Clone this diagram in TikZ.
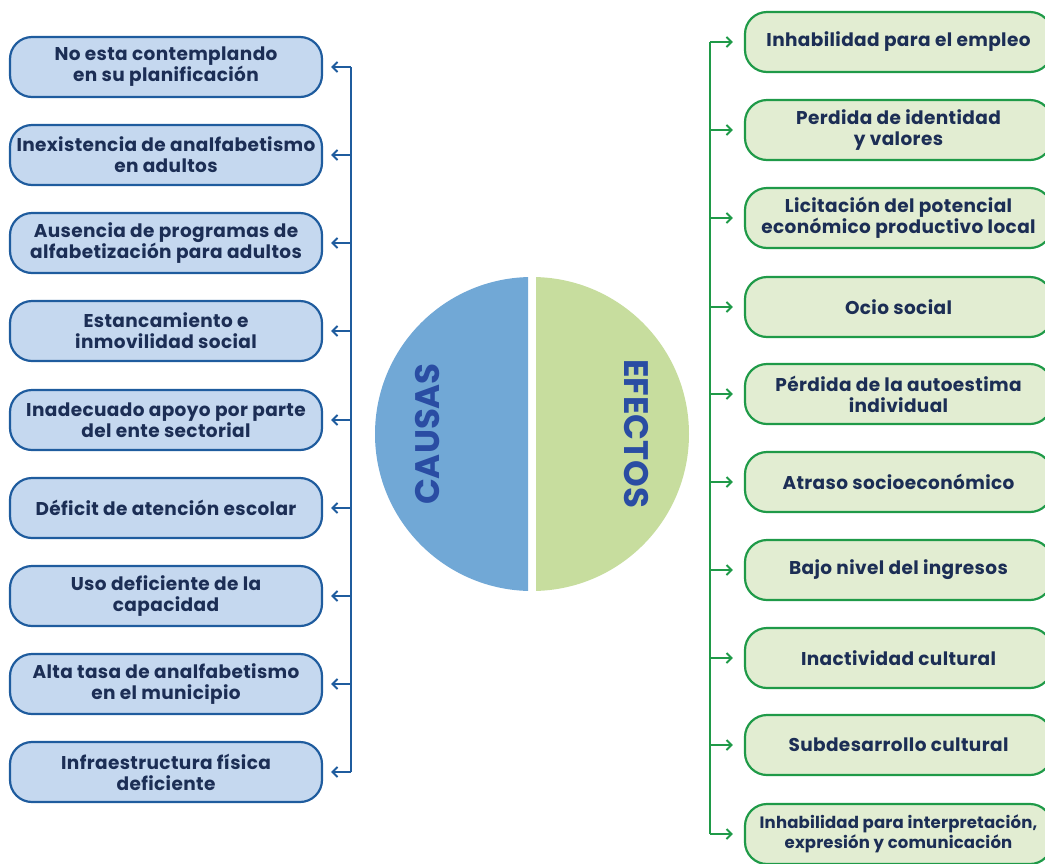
\documentclass[tikz,border=0pt]{standalone}
\usepackage{fontspec}
\setmainfont{Poppins}
\usetikzlibrary{arrows.meta}
\definecolor{cborder}{HTML}{1F5C9E}
\definecolor{cfill}{HTML}{C5D8EF}
\definecolor{eborder}{HTML}{1F9A48}
\definecolor{efill}{HTML}{E2EDD2}
\definecolor{btext}{HTML}{1C2E55}
\definecolor{lhalf}{HTML}{71A8D6}
\definecolor{rhalf}{HTML}{C7DD9E}
\definecolor{ctitle}{HTML}{2A4DA3}
\tikzset{
  basebox/.style={line width=2.2pt, rounded corners=22pt, minimum height=60pt,
    align=center, text=btext, inner sep=0pt,
    font=\fontsize{18.5}{21}\selectfont\bfseries\addfontfeature{LetterSpace=2}},
  cbox/.style={basebox, draw=cborder, fill=cfill, minimum width=312pt},
  ebox/.style={basebox, draw=eborder, fill=efill, minimum width=307pt},
  smalltext/.style={font=\fontsize{16.5}{20}\selectfont\bfseries\addfontfeature{LetterSpace=1}},
  carrow/.style={draw=cborder, line width=2pt, -{Straight Barb[length=5pt,width=10pt]}, shorten >=8pt},
  earrow/.style={draw=eborder, line width=2pt, -{Straight Barb[length=5pt,width=10pt]}, shorten >=11pt},
  cline/.style={draw=cborder, line width=2pt},
  eline/.style={draw=eborder, line width=2pt},
  title/.style={text=ctitle, font=\fontsize{34}{40}\selectfont\bfseries, inner sep=0pt}
}
\begin{document}
\begin{tikzpicture}[x=1pt,y=-1pt]
\useasboundingbox (0,0) rectangle (1045,863);
% circle
\begin{scope}
\clip (360,260) rectangle (528,610);
\fill[lhalf] (532,434) circle[radius=157];
\end{scope}
\begin{scope}
\clip (536,260) rectangle (700,610);
\fill[rhalf] (532,434) circle[radius=157];
\end{scope}
\node[title, rotate=90] (causas) at (428,434) {CAUSAS};
\node[title, rotate=-90] (efectos) at (636,434) {EFECTOS};
% causes
\node[cbox] (c1) at (166,67) {No esta contemplando\\en su planificación};
\node[cbox] (c2) at (166,155) {Inexistencia de analfabetismo\\en adultos};
\node[cbox] (c3) at (166,243) {Ausencia de programas de\\alfabetización para adultos};
\node[cbox] (c4) at (166,331) {Estancamiento e\\inmovilidad social};
\node[cbox] (c5) at (166,420) {Inadecuado apoyo por parte\\del ente sectorial};
\node[cbox] (c6) at (166,508) {Déficit de atención escolar};
\node[cbox] (c7) at (166,596) {Uso deficiente de la\\capacidad};
\node[cbox] (c8) at (166,684) {Alta tasa de analfabetismo\\en el municipio};
\node[cbox] (c9) at (166,772) {Infraestructura física\\deficiente};
\foreach \i/\y in {1/67,2/155,3/243,4/331,5/420,6/508,7/596,8/684,9/772}{
  \coordinate (jc\i) at (351,\y);
}
\draw[cline] (jc1) -- (jc9);
\foreach \i in {1,...,9}{ \draw[carrow] (jc\i) -- (c\i.east); }
% effects
\node[ebox] (e1) at (898.5,42) {Inhabilidad para el empleo};
\node[ebox] (e2) at (898.5,130) {Perdida de identidad\\y valores};
\node[ebox] (e3) at (898.5,218) {Licitación del potencial\\económico productivo local};
\node[ebox] (e4) at (898.5,307) {Ocio social};
\node[ebox] (e5) at (898.5,394) {Pérdida de la autoestima\\individual};
\node[ebox] (e6) at (898.5,482) {Atraso socioeconómico};
\node[ebox] (e7) at (898.5,570) {Bajo nivel del ingresos};
\node[ebox] (e8) at (898.5,658) {Inactividad cultural};
\node[ebox] (e9) at (898.5,745) {Subdesarrollo cultural};
\node[ebox, smalltext] (e10) at (898.5,834) {Inhabilidad para interpretación,\\expresión y comunicación};
\foreach \i/\y in {1/42,2/130,3/218,4/307,5/394,6/482,7/570,8/658,9/745,10/834}{
  \coordinate (je\i) at (710,\y);
}
\draw[eline] (je1) -- (je10);
\foreach \i in {1,...,10}{ \draw[earrow] (je\i) -- (e\i.west); }
\end{tikzpicture}
\end{document}
